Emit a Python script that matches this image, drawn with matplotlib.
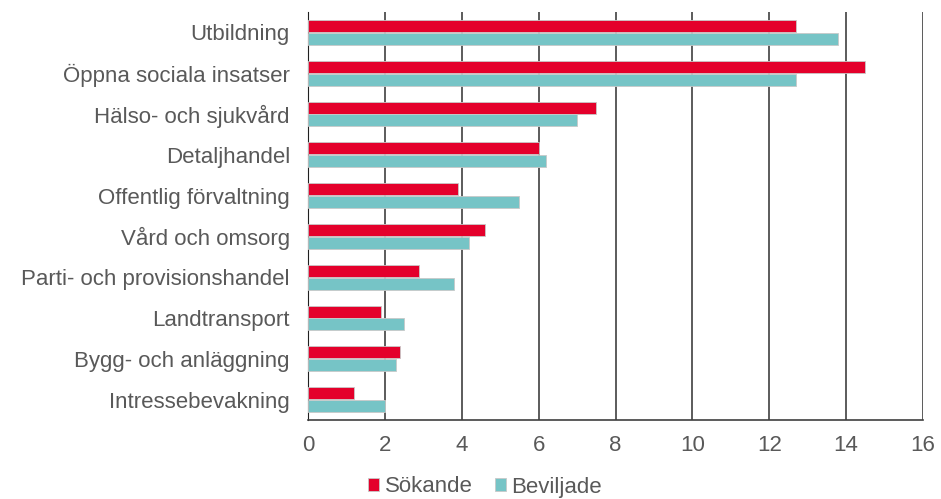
import matplotlib.pyplot as plt
import numpy as np

plt.rcParams['font.family'] = ['Liberation Sans', 'DejaVu Sans']

# Data
categories = ['Utbildning', 'Öppna sociala insatser', 'Hälso- och sjukvård', 'Detaljhandel',
              'Offentlig förvaltning', 'Vård och omsorg', 'Parti- och provisionshandel',
              'Landtransport', 'Bygg- och anläggning', 'Intressebevakning']
sokande = [12.7, 14.5, 7.5, 6.0, 3.9, 4.6, 2.9, 1.9, 2.4, 1.2]
beviljade = [13.8, 12.7, 7.0, 6.2, 5.5, 4.2, 3.8, 2.5, 2.3, 2.0]
xticks = [0, 2, 4, 6, 8, 10, 12, 14, 16]

red = '#E4002B'
teal = '#76C4C6'
txt = '#595959'
fs = 16

fig = plt.figure(figsize=(9.41, 4.99), dpi=100)
ax = fig.add_axes([308 / 941, 1 - 420 / 499, (923 - 308) / 941, (420 - 12) / 499])

y = np.arange(len(categories))
h = 0.295
ax.barh(y - h / 2 - 0.01, sokande, height=h, color=red, edgecolor='#c8c8c8', linewidth=0.6,
        label='Sökande', zorder=3)
ax.barh(y + h / 2 + 0.01, beviljade, height=h, color=teal, edgecolor='#c8c8c8', linewidth=0.6,
        label='Beviljade', zorder=3)

ax.set_ylim(9.5, -0.5)
ax.set_xlim(0, 16)
ax.set_yticks(y)
ax.set_yticklabels(categories, fontsize=fs, color=txt)
ax.set_xticks(xticks)
ax.set_xticklabels([str(t) for t in xticks], fontsize=fs, color=txt)
ax.tick_params(axis='y', length=0, pad=13)
ax.tick_params(axis='x', length=0, pad=11)

ax.grid(axis='x', color='#404040', linewidth=1.2, zorder=0)
for s in ['top', 'right']:
    ax.spines[s].set_visible(False)
ax.spines['left'].set_color('#202020')
ax.spines['bottom'].set_color('#404040')
ax.spines['bottom'].set_linewidth(1.2)

fig.legend(loc='center', bbox_to_anchor=(485 / 941, 1 - 487 / 499), ncol=2, frameon=False,
           fontsize=fs, labelcolor=txt, handlelength=0.5, handleheight=0.5,
           handletextpad=0.25, columnspacing=1.0, borderpad=0)

fig.savefig('out.png', dpi=100)
